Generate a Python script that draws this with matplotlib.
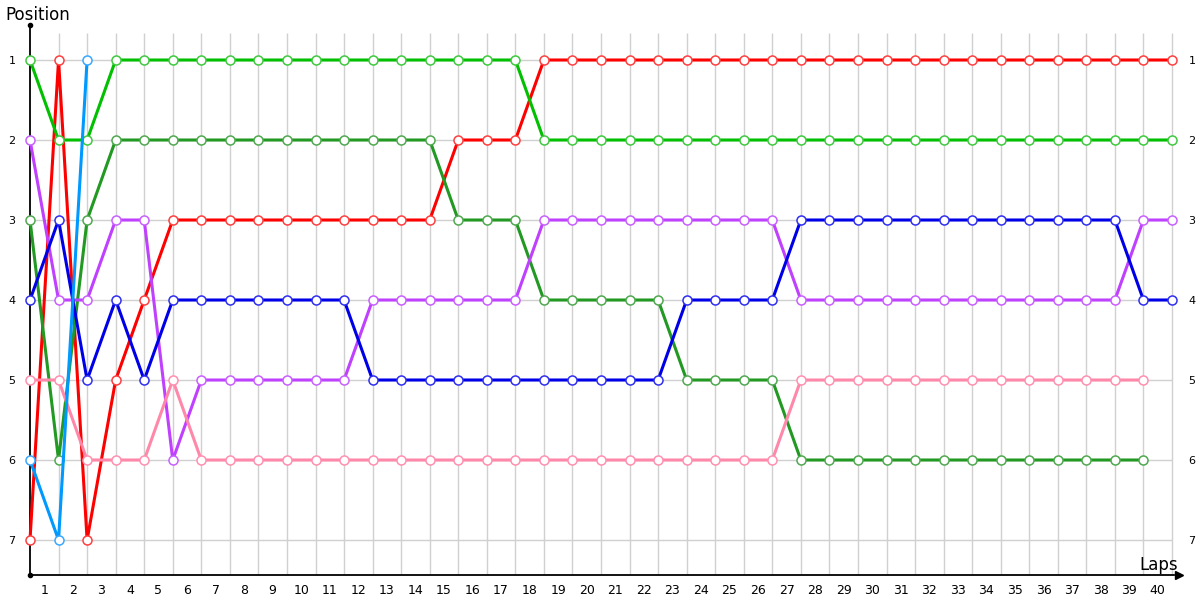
import matplotlib
matplotlib.use('Agg')
import matplotlib.pyplot as plt
import numpy as np

# positions per lap (lap 0 = grid)
laps = list(range(0, 41))
positions = [1, 2, 3, 4, 5, 6, 7]

red = [7, 1, 7, 5, 4, 3, 3, 3, 3, 3, 3, 3, 3, 3, 3, 2, 2, 2, 1, 1,
       1, 1, 1, 1, 1, 1, 1, 1, 1, 1, 1, 1, 1, 1, 1, 1, 1, 1, 1, 1, 1]
green = [1, 2, 2, 1, 1, 1, 1, 1, 1, 1, 1, 1, 1, 1, 1, 1, 1, 1, 2, 2,
         2, 2, 2, 2, 2, 2, 2, 2, 2, 2, 2, 2, 2, 2, 2, 2, 2, 2, 2, 2, 2]
darkgreen = [3, 6, 3, 2, 2, 2, 2, 2, 2, 2, 2, 2, 2, 2, 2, 3, 3, 3, 4, 4,
             4, 4, 4, 5, 5, 5, 5, 6, 6, 6, 6, 6, 6, 6, 6, 6, 6, 6, 6, 6]
purple = [2, 4, 4, 3, 3, 6, 5, 5, 5, 5, 5, 5, 4, 4, 4, 4, 4, 4, 3, 3,
          3, 3, 3, 3, 3, 3, 3, 4, 4, 4, 4, 4, 4, 4, 4, 4, 4, 4, 4, 3, 3]
blue = [4, 3, 5, 4, 5, 4, 4, 4, 4, 4, 4, 4, 5, 5, 5, 5, 5, 5, 5, 5,
        5, 5, 5, 4, 4, 4, 4, 3, 3, 3, 3, 3, 3, 3, 3, 3, 3, 3, 3, 4, 4]
pink = [5, 5, 6, 6, 6, 5, 6, 6, 6, 6, 6, 6, 6, 6, 6, 6, 6, 6, 6, 6,
        6, 6, 6, 6, 6, 6, 6, 5, 5, 5, 5, 5, 5, 5, 5, 5, 5, 5, 5, 5]
lightblue = [6, 7, 1]

series = [
    (red, '#ff0000', '#ff4040'),
    (green, '#00c000', '#40c840'),
    (darkgreen, '#229922', '#50a850'),
    (purple, '#c040ff', '#c860ff'),
    (blue, '#0000e8', '#3030f0'),
    (pink, '#ff88aa', '#ff90b0'),
    (lightblue, '#0099ff', '#3aa8ff'),
]

fig = plt.figure(figsize=(12, 6), dpi=100)
ax = fig.add_axes([30 / 1200, 25 / 600, 1144 / 1200, 550 / 600])

px = 28.55
ax.set_xlim(0, 1144 / px)
ax.set_ylim(7 + 35 / 80, 1 - 35 / 80)

# grid
ax.vlines(laps[1:], 0.6625, 7 + 35 / 80, color='#d0d0d0', lw=1, zorder=1)
ax.hlines(positions, 0, 40, color='#d0d0d0', lw=1, zorder=1)

for vals, col, mcol in series:
    x = laps[:len(vals)]
    ax.plot(x, vals, color=col, lw=2.2, solid_joinstyle='miter',
            marker='o', ms=6.5, mfc='white', mec=mcol, mew=1.1,
            zorder=3, clip_on=False)

for s in ['top', 'right']:
    ax.spines[s].set_visible(False)
ax.spines['left'].set_color('black')
ax.spines['bottom'].set_color('black')
ax.spines['left'].set_linewidth(1.3)
ax.spines['bottom'].set_linewidth(1.3)

# axis end markers
ax.plot([0], [1], marker='o', ms=3, color='black', transform=ax.transAxes, clip_on=False)
ax.plot([0], [0], marker='o', ms=3, color='black', transform=ax.transAxes, clip_on=False)
ax.plot([1.004], [0], marker='>', ms=6, color='black', transform=ax.transAxes, clip_on=False)

ax.set_yticks(positions)
ax.set_yticklabels([str(p) for p in positions], fontsize=8)
ax.tick_params(axis='y', left=False, right=False, labelleft=True, labelright=True, pad=7)

ax.set_xticks([i - 0.5 for i in laps[1:]])
ax.set_xticklabels([str(i) for i in laps[1:]], fontsize=9)
ax.tick_params(axis='x', bottom=False, pad=3)

fig.text(5 / 1200, 1 - 15 / 600, 'Position', fontsize=12, va='center', ha='left')
fig.text(1159 / 1200, 1 - 565 / 600, 'Laps', fontsize=12, va='center', ha='center')

fig.savefig('out.png', dpi=100)
